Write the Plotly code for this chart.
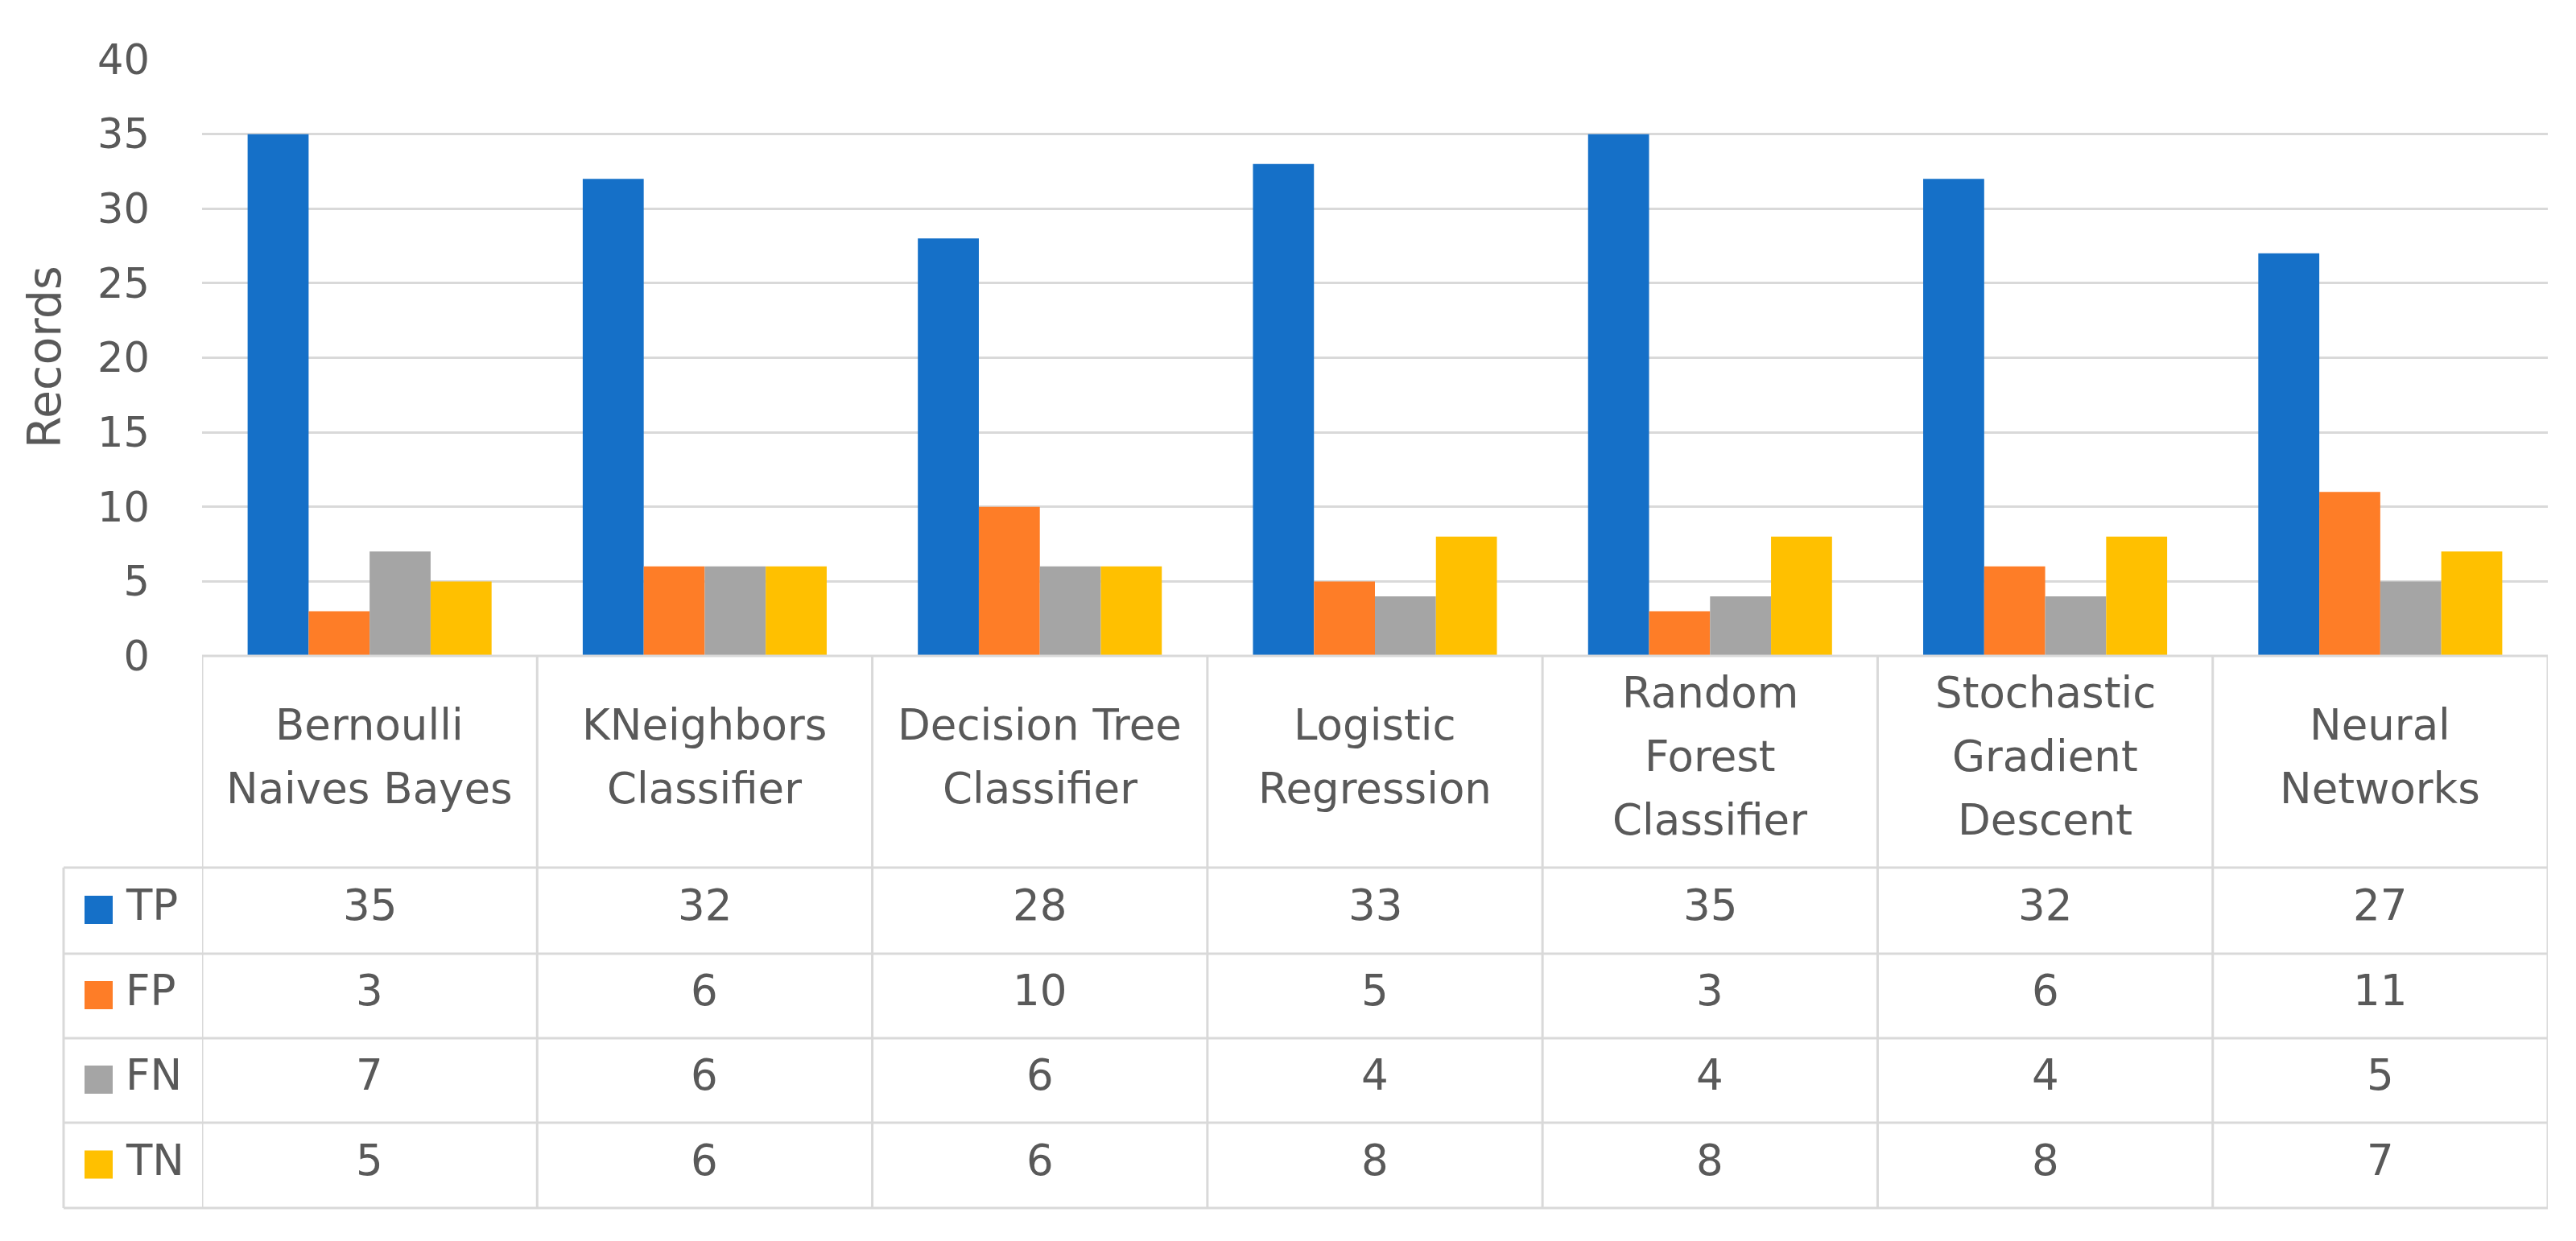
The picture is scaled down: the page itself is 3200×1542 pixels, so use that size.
import plotly.graph_objects as go

# ---- data ----
categories = ["Bernoulli<br>Naives Bayes", "KNeighbors<br>Classifier", "Decision Tree<br>Classifier",
              "Logistic<br>Regression", "Random<br>Forest<br>Classifier",
              "Stochastic<br>Gradient<br>Descent", "Neural<br>Networks"]
series_names = ["TP", "FP", "FN", "TN"]
tp = [35, 32, 28, 33, 35, 32, 27]
fp = [3, 6, 10, 5, 3, 6, 11]
fn = [7, 6, 6, 4, 4, 4, 5]
tn = [5, 6, 6, 8, 8, 8, 7]
y_ticks = [0, 5, 10, 15, 20, 25, 30, 35, 40]
y_title = "Records"

series_values = [tp, fp, fn, tn]
colors = ["#1570C8", "#FE7D27", "#A5A5A5", "#FFC000"]

# ---- layout constants (pixels) ----
W, H = 3200, 1542
PL, PR, PT, PB = 243, 3157, 66, 807          # plot area
HEADER_BOTTOM = 1070
ROW_LINES = [1070, 1177, 1282, 1387, 1493]
LEG_LEFT = 71
TXT = "#595959"
GRID = "#D9D9D9"
FONT = "DejaVu Sans"
FS = 53
LINE_SP = 79
DY = -7   # optical shift of text centres

pw, ph = PR - PL, PB - PT
def px(x):
    return (x - PL) / pw
def py(y):
    return (PB - y) / ph

xs = list(range(len(categories)))
fig = go.Figure()
for name, vals, col in zip(series_names, series_values, colors):
    fig.add_trace(go.Bar(x=xs, y=vals, name=name, marker=dict(color=col, line=dict(width=0)),
                         showlegend=False))

shapes = []
annotations = []
line = dict(color=GRID, width=3)

# top border of table (axis baseline)
shapes.append(dict(type="line", xref="x", yref="paper", x0=-0.5, x1=len(xs) - 0.5,
                   y0=py(PB), y1=py(PB), line=line))
# horizontal row lines
for yl in ROW_LINES:
    shapes.append(dict(type="line", xref="paper", yref="paper", x0=px(LEG_LEFT), x1=1,
                       y0=py(yl), y1=py(yl), line=line))
# vertical column lines
for i in range(len(xs) + 1):
    shapes.append(dict(type="line", xref="x", yref="paper", x0=i - 0.5, x1=i - 0.5,
                       y0=py(PB), y1=py(ROW_LINES[-1]), line=line))
shapes.append(dict(type="line", xref="paper", yref="paper", x0=px(LEG_LEFT), x1=px(LEG_LEFT),
                   y0=py(ROW_LINES[0]), y1=py(ROW_LINES[-1]), line=line))

# category header labels
hc = (PB + HEADER_BOTTOM) / 2
for i, cat in enumerate(categories):
    parts = cat.split("<br>")
    n = len(parts)
    for k, p in enumerate(parts):
        yc = hc + (k - (n - 1) / 2) * LINE_SP + DY
        annotations.append(dict(text=p, xref="x", yref="paper", x=i, y=py(yc),
                                xanchor="center", yanchor="middle", showarrow=False,
                                font=dict(family=FONT, size=FS, color=TXT)))

# table rows: legend swatch + name + values
SQ = 35
for r, (name, vals, col) in enumerate(zip(series_names, series_values, colors)):
    yc = (ROW_LINES[r] + ROW_LINES[r + 1]) / 2
    shapes.append(dict(type="rect", xref="paper", yref="paper", x0=px(97), x1=px(97 + SQ),
                       y0=py(yc - 1 - SQ / 2), y1=py(yc - 1 + SQ / 2), fillcolor=col,
                       line=dict(width=0)))
    annotations.append(dict(text=name, xref="paper", yref="paper", x=px(146), y=py(yc + DY),
                            xanchor="left", yanchor="middle", showarrow=False,
                            font=dict(family=FONT, size=FS, color=TXT)))
    for i, v in enumerate(vals):
        annotations.append(dict(text=str(v), xref="x", yref="paper", x=i, y=py(yc + DY),
                                xanchor="center", yanchor="middle", showarrow=False,
                                font=dict(family=FONT, size=FS, color=TXT)))

# y-axis title
annotations.append(dict(text=y_title, xref="paper", yref="paper", x=px(47), y=py(436),
                        xanchor="center", yanchor="middle", textangle=-90, showarrow=False,
                        font=dict(family=FONT, size=57, color=TXT)))

fig.update_layout(
    width=W, height=H,
    margin=dict(l=PL, r=W - PR, t=PT, b=H - PB, pad=0),
    paper_bgcolor="white", plot_bgcolor="white",
    barmode="group", bargap=0.272, bargroupgap=0,
    font=dict(family=FONT, size=FS, color=TXT),
    xaxis=dict(range=[-0.5, len(xs) - 0.5], showticklabels=False, showgrid=False,
               zeroline=False, showline=False, ticks=""),
    yaxis=dict(range=[0, 40], tickvals=y_ticks, showgrid=True, gridcolor=GRID, gridwidth=3,
               zeroline=False, showline=False, ticks="", ticklabelstandoff=64,
               tickfont=dict(family=FONT, size=51, color=TXT)),
    shapes=shapes, annotations=annotations,
)

fig.write_html("out.html")
